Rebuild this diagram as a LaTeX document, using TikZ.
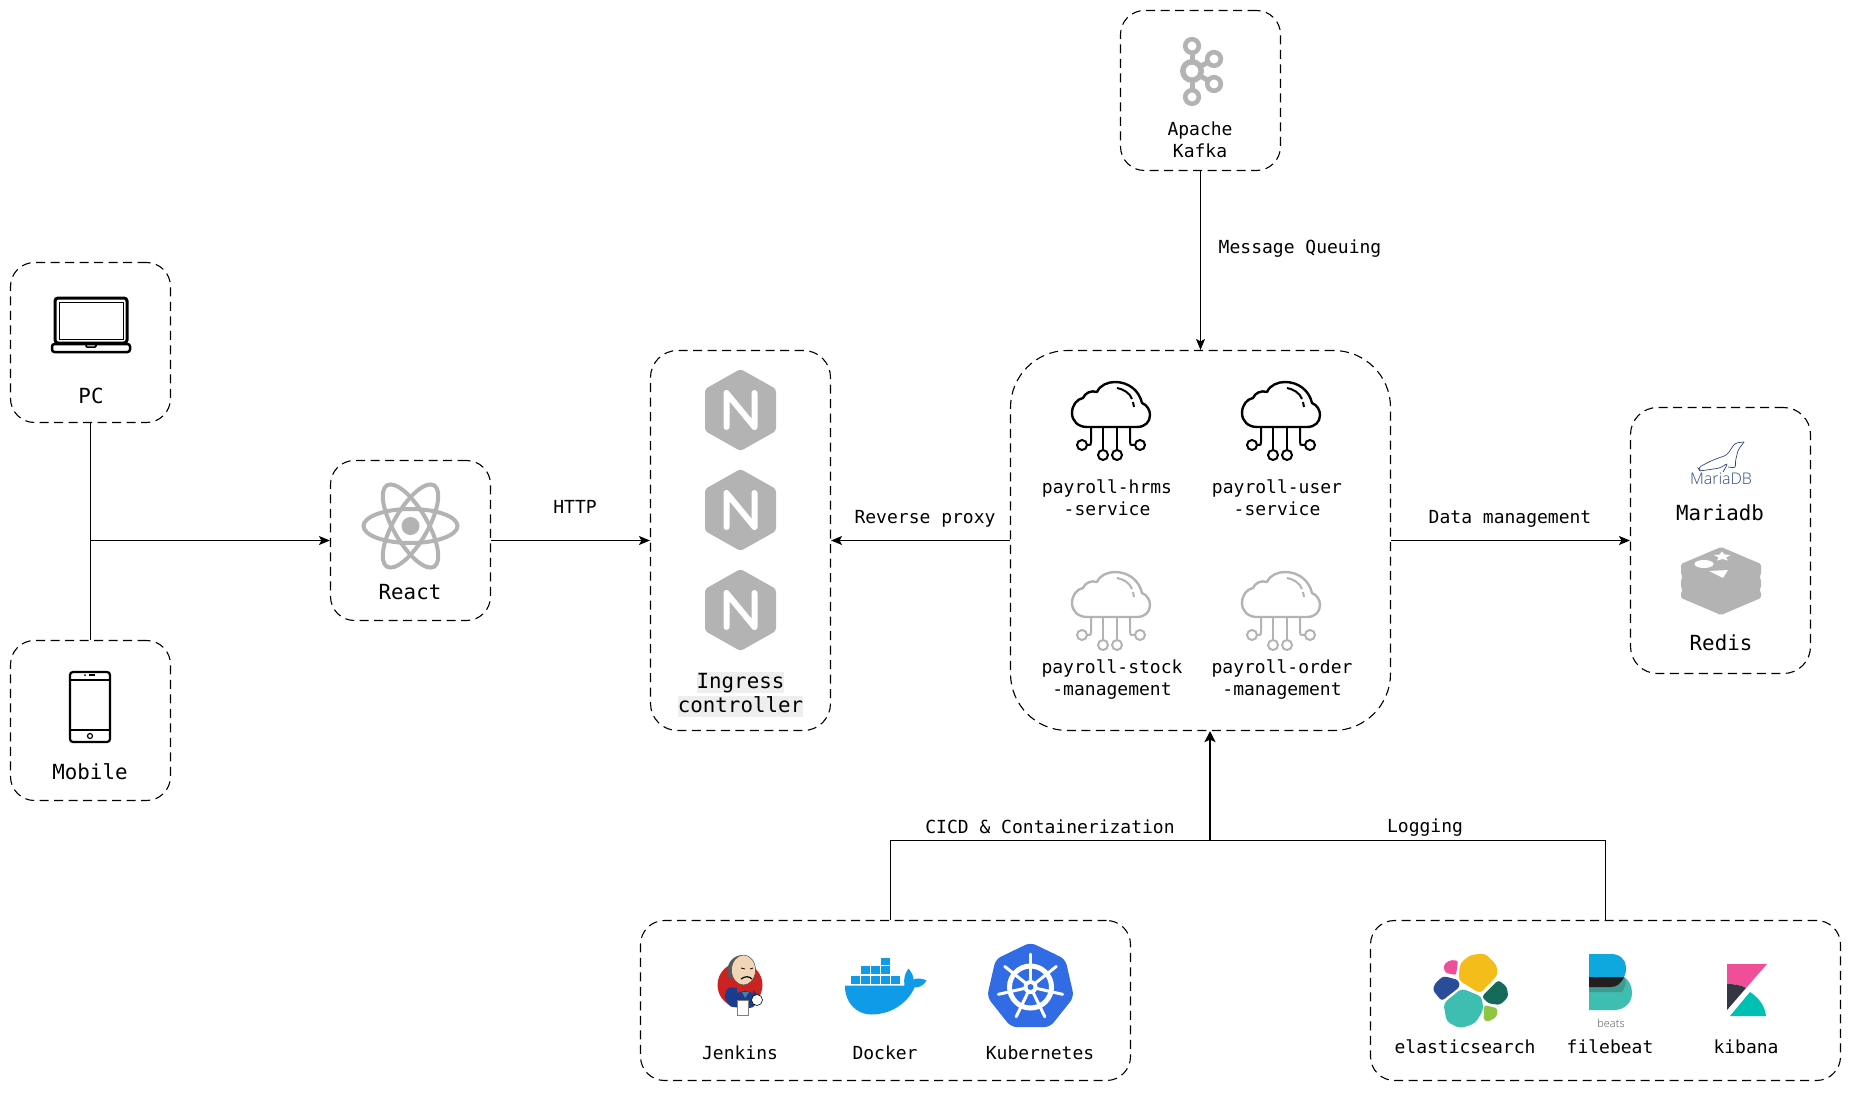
\documentclass[tikz,border=0pt]{standalone}
\usepackage{fontspec}
\setmonofont{DejaVu Sans Mono}
\newfontfamily\logofont{Open Sans Light}
\usepackage{tikz}
\usetikzlibrary{arrows.meta}
\definecolor{icongray}{HTML}{B3B3B3}
\definecolor{hlgray}{HTML}{EEEEEE}
\definecolor{seablue}{HTML}{0F9BE8}
\definecolor{kubeblue}{HTML}{326CE5}
\definecolor{marianavy}{HTML}{2F4A7F}
\definecolor{esyellow}{HTML}{F4BD19}
\definecolor{espink}{HTML}{EE4F9B}
\definecolor{esnavy}{HTML}{2B4C98}
\definecolor{esteal}{HTML}{3EBEB0}
\definecolor{esgreen}{HTML}{156A59}
\definecolor{eslime}{HTML}{8EC63F}
\definecolor{beatblue}{HTML}{0EA8DF}
\definecolor{beatblack}{HTML}{231F20}
\definecolor{beatmid}{HTML}{3F9A90}
\definecolor{kibpink}{HTML}{F04E98}
\definecolor{kibdark}{HTML}{343741}
\definecolor{kibteal}{HTML}{00BFB3}
\definecolor{jenkred}{HTML}{CC2222}
\definecolor{jenkblue}{HTML}{1A3C8E}
\definecolor{jenkskin}{HTML}{F0D6B7}
\setlength{\fboxsep}{0pt}
\newcommand{\hlline}[1]{\colorbox{hlgray}{\rule[-4.5pt]{0pt}{21pt}#1}}
\tikzset{
	box/.style={draw,dashed,dash pattern=on 9pt off 5.5pt,line width=1.1pt,inner sep=0pt,rectangle},
	small/.style={font=\ttfamily\fontsize{18}{22}\selectfont,align=center,inner sep=0pt},
	big/.style={font=\ttfamily\fontsize{20.8}{24.4}\selectfont,align=center,inner sep=0pt},
	conn/.style={line width=1.1pt,-{Stealth[length=11pt,width=9pt,inset=2.5pt]}},
	heavy/.style={line width=2pt,-{Stealth[length=11pt,width=11pt,inset=2.5pt]}},
	plain/.style={line width=1.1pt},
	pics/laptop/.style={code={
		\draw[line width=3pt,rounded corners=3pt] (-36,-22) rectangle (36,23);
		\draw[line width=1pt] (-32,-18) rectangle (32,19);
		\draw[line width=2.5pt,rounded corners=2.5pt] (-39,24) rectangle (39,32);
		\draw[line width=1.5pt,rounded corners=1pt] (-5,24) rectangle (5,27);
	}},
	pics/phone/.style={code={
		\draw[line width=2.2pt,rounded corners=3pt] (-20,-35) rectangle (20,35);
		\draw[line width=1.6pt] (-20,-27) -- (20,-27);
		\draw[line width=1.6pt] (-20,23) -- (20,23);
		\draw[line width=1.2pt] (0,29) circle (2.5);
		\draw[line width=1.2pt] (-1,-32) -- (5,-32);
		\fill (-5,-32) circle (1);
	}},
	pics/reactlogo/.style={code={
		\draw[icongray,line width=4pt] (0,0) ellipse (47 and 17);
		\draw[icongray,line width=4pt,rotate=60] (0,0) ellipse (47 and 17);
		\draw[icongray,line width=4pt,rotate=-60] (0,0) ellipse (47 and 17);
		\fill[icongray] (0,0) circle (9);
	}},
	pics/nginx/.style={code={
		\fill[icongray,rounded corners=3pt] (0,-41) -- (35.5,-21) -- (35.5,21) -- (0,41) -- (-35.5,21) -- (-35.5,-21) -- cycle;
		\draw[white,line width=6pt,line cap=round,line join=round] (-14,17) -- (-14,-17) -- (14,17) -- (14,-17);
	}},
	pics/cloud/.style={code={
		\draw[line width=2.4pt,line join=round] (-24,7) .. controls (-33,7) and (-39,1) .. (-39,-7) .. controls (-39,-15) and (-34,-21) .. (-28,-22) .. controls (-26,-27) and (-20,-30) .. (-14,-28) .. controls (-11,-35) and (-3,-38) .. (4,-38) .. controls (17,-38) and (28,-30) .. (31,-17) .. controls (36,-15) and (39,-10) .. (39,-5) .. controls (39,2) and (34,7) .. (26,7) -- cycle;
		\draw[line width=2pt] (6,-32) .. controls (12,-31) and (19,-27) .. (21,-21);
		\draw[line width=2pt] (22,-18) -- (23,-13);
		\draw[line width=2pt] (-20,7) -- (-20,22) .. controls (-20,25) .. (-24,25);
		\draw[line width=2pt] (-29,25) circle (5);
		\draw[line width=2pt] (-8,7) -- (-8,30);
		\draw[line width=2pt] (-8,35) circle (5);
		\draw[line width=2pt] (6,7) -- (6,30);
		\draw[line width=2pt] (6,35) circle (5);
		\draw[line width=2pt] (19,7) -- (19,22) .. controls (19,25) .. (24,25);
		\draw[line width=2pt] (29,25) circle (5);
	}},
	pics/kafka/.style={code={
		\draw[icongray,line width=5pt] (0,-25) -- (0,26);
		\draw[icongray,line width=5pt] (0,0) -- (22,-12);
		\draw[icongray,line width=5pt] (0,0) -- (22,13);
		\draw[icongray,line width=5.5pt,fill=white] (0,0) circle (9.2);
		\draw[icongray,line width=4.6pt,fill=white] (0,-25) circle (6.8);
		\draw[icongray,line width=4.6pt,fill=white] (0,26) circle (6.8);
		\draw[icongray,line width=4.6pt,fill=white] (22,-12) circle (6.8);
		\draw[icongray,line width=4.6pt,fill=white] (22,13) circle (6.8);
	}},
	pics/seal/.style={code={
		\draw[marianavy,line width=.7pt,rounded corners=3pt] (23,-15) -- (14,-14) -- (6,-2) -- (-8,3) -- (-18,8) -- (-23,11) -- (-21,14) -- (-1,11) -- (7,6) -- (2,15);
		\draw[marianavy,line width=.7pt,rounded corners=3pt] (23,-15) -- (17,-7) -- (14,6) -- (15,11) -- (7,10);
	}},
	pics/redis/.style={code={
		\fill[icongray,rounded corners=1.5pt] (0,-34) -- (40,-17) -- (40,-6) -- (38,-4) -- (40,-2) -- (40,7) -- (38,9) -- (40,11) -- (40,17) -- (0,34) -- (-40,17) -- (-40,11) -- (-38,9) -- (-40,7) -- (-40,-2) -- (-38,-4) -- (-40,-6) -- (-40,-17) -- cycle;
		\fill[white] (-17,-17) ellipse (9.5 and 4);
		\fill[white] (1,-29.5) -- (3.5,-26.5) -- (9.5,-26) -- (5,-23.5) -- (7,-20.5) -- (1.5,-22) -- (-4,-20.5) -- (-2.5,-23.5) -- (-7,-26) -- (-1.5,-26.5) -- cycle;
		\fill[white] (-12,-10) -- (7,-11) -- (2,-3) -- cycle;
	}},
	pics/jenkins/.style={code={
		\fill[jenkred] (0,0) circle (22.5);
		\fill[jenkblue,rounded corners=3pt] (-12,2) -- (15,5) -- (19,14) -- (13,23) -- (-10,22) -- (-16,12) -- cycle;
		\fill[black!65] (-12,-8) .. controls (-15,-20) and (-8,-30) .. (3,-30) .. controls (-4,-26) and (-7,-18) .. (-8,-6) -- cycle;
		\fill[jenkskin,draw=black!70,line width=.5pt] (3.5,-15) ellipse (12 and 15);
		\draw[line width=1.2pt] (1,-6) .. controls (5,-9) and (9,-9) .. (12,-6);
		\draw[line width=.8pt] (1,-17) -- (5,-16);
		\draw[line width=.8pt] (10,-16) -- (13,-17);
		\fill[jenkred] (-3,1) -- (5,4) -- (13,1) -- (13,8) -- (5,5.5) -- (-3,8) -- cycle;
		\fill[cyan!60!black] (2,7) -- (9,7) -- (5,13) -- cycle;
		\fill[white,draw=black!50,line width=.5pt] (-3,15) -- (8,15) -- (8,30) -- (-3,30) -- cycle;
		\fill[white,draw=black,line width=.6pt] (17,15) circle (5.5);
	}},
	pics/docker/.style={code={
		\foreach \cx in {851,861,871,881,891} {\fill[seablue] (\cx-885.5,976-985.5) rectangle ++(8.5,7.5);}
		\foreach \cx in {861,871,881} {\fill[seablue] (\cx-885.5,966-985.5) rectangle ++(8.5,7.5);}
		\fill[seablue] (-4.5,-28) rectangle ++(8.5,7.5);
		\fill[seablue] (-40.5,0) -- (19,0) .. controls (18,-6) and (19,-12) .. (23,-17) .. controls (26,-13) and (28,-10) .. (28,-6) .. controls (32,-8) and (37,-7) .. (41,-5) .. controls (38,0) and (34,2) .. (29,2) .. controls (22,18) and (5,29) .. (-14,29) .. controls (-30,29) and (-41,16) .. (-40.5,0) -- cycle;
	}},
	pics/kube/.style={code={
		\fill[kubeblue,rounded corners=6pt] (-90:44.6) -- (-38.57:44.6) -- (12.86:44.6) -- (64.29:44.6) -- (115.71:44.6) -- (167.14:44.6) -- (218.57:44.6) -- cycle;
		\draw[white,line width=5pt] (0,0) circle (21);
		\foreach \ang in {-90,-38.57,12.86,64.29,115.71,167.14,218.57} {\draw[white,line width=3pt,line cap=round] (0,0) -- (\ang:33);}
		\fill[white] (0,0) circle (7);
		\fill[kubeblue] (0,0) circle (3);
	}},
	pics/elastic/.style={code={
		\fill[esyellow,rounded corners=4pt] (-10.7,-27.3) -- (-.7,-35.7) -- (14.3,-37.3) -- (26,-25.7) -- (27,-15.7) -- (9.3,2.7) -- (-12.3,-10.7) -- cycle;
		\fill[espink,rounded corners=2pt] (-27.3,-25.7) -- (-20.7,-30.7) -- (-12.7,-30) -- (-14.7,-15.7) -- (-25.7,-18) -- cycle;
		\fill[esnavy,rounded corners=3pt] (-35.7,-7.3) -- (-27.3,-14.7) -- (-12.3,-10.7) -- (-10.7,-4) -- (-29,10.3) -- (-38,-.7) -- cycle;
		\fill[esteal,rounded corners=4pt] (-27.3,12.7) -- (-9,-2.3) -- (11,6) -- (12.7,19.3) -- (4.3,32.7) -- (-10.7,37.7) -- (-24,31) -- cycle;
		\fill[esgreen,rounded corners=3pt] (11,6) -- (27.7,-10.7) -- (36,-4) -- (37.7,6) -- (29.3,14.3) -- (17.7,12.7) -- cycle;
		\fill[eslime,rounded corners=2pt] (13.7,14.3) -- (27,17.7) -- (26,26) -- (17.7,31) -- (12.7,29.3) -- cycle;
	}},
	pics/beats/.style={code={
		\fill[esteal] (0,33) -- (22,33) -- (35,23) .. controls (40,26) and (43,32) .. (43,39) .. controls (43,49) and (35,56) .. (25,56) -- (0,56) -- cycle;
		\fill[beatmid] (0,33) -- (22,33) .. controls (27,33) and (32,30) .. (35,23) .. controls (37,26) and (38,30) .. (33,38) -- (0,38) -- cycle;
		\fill[beatblue] (0,0) -- (22,0) .. controls (31,0) and (37,6) .. (37,13) .. controls (37,18) .. (35,23) -- (0,23) -- cycle;
		\fill[beatblack] (0,23) -- (35,23) .. controls (32,30) and (27,33) .. (22,33) -- (0,33) -- cycle;
	}},
	pics/kibana/.style={code={
		\fill[kibpink] (0,0) -- (40,0) -- (19,24) .. controls (14,21) and (7,20) .. (0,20) -- cycle;
		\fill[kibdark] (0,20) .. controls (7,20) and (14,21) .. (19,24) -- (0,46) -- cycle;
		\fill[kibteal] (3,52) -- (39,52) .. controls (38,42) and (32,34) .. (23,28) -- cycle;
	}}
}
\begin{document}
\begin{tikzpicture}[x=1pt,y=-1pt]
	\useasboundingbox (0,0) rectangle (1851,1099);

	\node[box,rounded corners=24pt,minimum width=160pt,minimum height=160pt] (PC) at (90.5,342.5) {};
	\node[box,rounded corners=24pt,minimum width=160pt,minimum height=160pt] (MOB) at (90.5,720.5) {};
	\node[box,rounded corners=24pt,minimum width=160pt,minimum height=160pt] (REACT) at (410.5,540.5) {};
	\node[box,rounded corners=27pt,minimum width=180pt,minimum height=380pt] (ING) at (740.5,540.5) {};
	\node[box,rounded corners=57pt,minimum width=380pt,minimum height=380pt] (SVC) at (1200.5,540.5) {};
	\node[box,rounded corners=24pt,minimum width=160pt,minimum height=160pt] (KFK) at (1200.5,90.5) {};
	\node[box,rounded corners=27pt,minimum width=180pt,minimum height=266pt] (STORE) at (1720.5,540.5) {};
	\node[box,rounded corners=24pt,minimum width=490pt,minimum height=160pt] (CICD) at (885.5,1000.5) {};
	\node[box,rounded corners=24pt,minimum width=470pt,minimum height=160pt] (LOG) at (1605.5,1000.5) {};

	\pic at (91,320) {laptop};
	\pic at (90,707) {phone};
	\pic at (410.5,526) {reactlogo};
	\pic at (740.5,410) {nginx};
	\pic at (740.5,510) {nginx};
	\pic at (740.5,610) {nginx};
	\pic at (1111,420) {cloud};
	\pic at (1281,420) {cloud};
	\pic[color=icongray] at (1111,610) {cloud};
	\pic[color=icongray] at (1281,610) {cloud};
	\pic at (1192,71) {kafka};
	\pic at (1721,457) {seal};
	\pic at (1721,581) {redis};
	\pic at (740,985) {jenkins};
	\pic at (885.5,985.5) {docker};
	\pic at (1030.5,987) {kube};
	\pic at (1470.7,990.7) {elastic};
	\pic at (1589,954) {beats};
	\pic at (1727,964) {kibana};

	\node[big] (PCL) at (91,396) {PC};
	\node[big] (MOBL) at (90,772) {Mobile};
	\node[big] (REACTL) at (410,592.5) {React};
	\node[big] (INGL) at (740.5,694.5) {\hlline{Ingress}\\\hlline{controller}};
	\node[small] (HRMS) at (1107,497.5) {payroll-hrms\\-service};
	\node[small] (USER) at (1277,497.5) {payroll-user\\-service};
	\node[small] (STOCK) at (1112,679.5) {payroll-stock\\-management};
	\node[small] (ORDER) at (1282,679.5) {payroll-order\\-management};
	\node[small] (KFKL) at (1200,140) {Apache\\Kafka};
	\node[big] (MARIA) at (1720,513) {Mariadb};
	\node[big] (REDIS) at (1721,643) {Redis};
	\node[font=\logofont\fontsize{16}{16}\selectfont,text=marianavy,inner sep=0pt] (MARIALOGO) at (1721,479) {MariaDB};
	\node[small] (JENK) at (740,1053) {Jenkins};
	\node[small] (DOCK) at (885,1053) {Docker};
	\node[small] (KUBE) at (1040,1053) {Kubernetes};
	\node[small] (ELAS) at (1465,1047) {elasticsearch};
	\node[small] (FBEAT) at (1610,1047) {filebeat};
	\node[small] (KIB) at (1746,1047) {kibana};
	\node[font=\logofont\fontsize{11}{11}\selectfont,text=black!70,inner sep=0pt] (BEATS) at (1611,1023) {beats};

	\node[small] (HTTP) at (575,507) {HTTP};
	\node[small] (PROXY) at (925,518.5) {Reverse proxy};
	\node[small] (DATA) at (1510,518.5) {Data management};
	\node[small] (QUEUE) at (1300,248.5) {Message Queuing};
	\node[small] (CICDL) at (1050,826.5) {CICD \& Containerization};
	\node[small] (LOGL) at (1425,828) {Logging};

	\coordinate (FORK) at (90.5,540.5);
	\coordinate (JOIN) at (1210,840.5);
	\coordinate (CICDUP) at (890.5,840.5);
	\coordinate (LOGUP) at (1605.5,840.5);

	\draw[plain] (PC.south) -- (MOB.north);
	\draw[conn] (FORK) -- (REACT.west);
	\draw[conn] (REACT.east) -- (ING.west);
	\draw[conn] (SVC.west) -- (ING.east);
	\draw[conn] (SVC.east) -- (STORE.west);
	\draw[conn] (KFK.south) -- (SVC.north);
	\draw[plain] (CICDUP |- CICD.north) -- (CICDUP) -- (LOGUP) -- (LOGUP |- LOG.north);
	\draw[heavy] (JOIN) -- (JOIN |- SVC.south);
\end{tikzpicture}
\end{document}
